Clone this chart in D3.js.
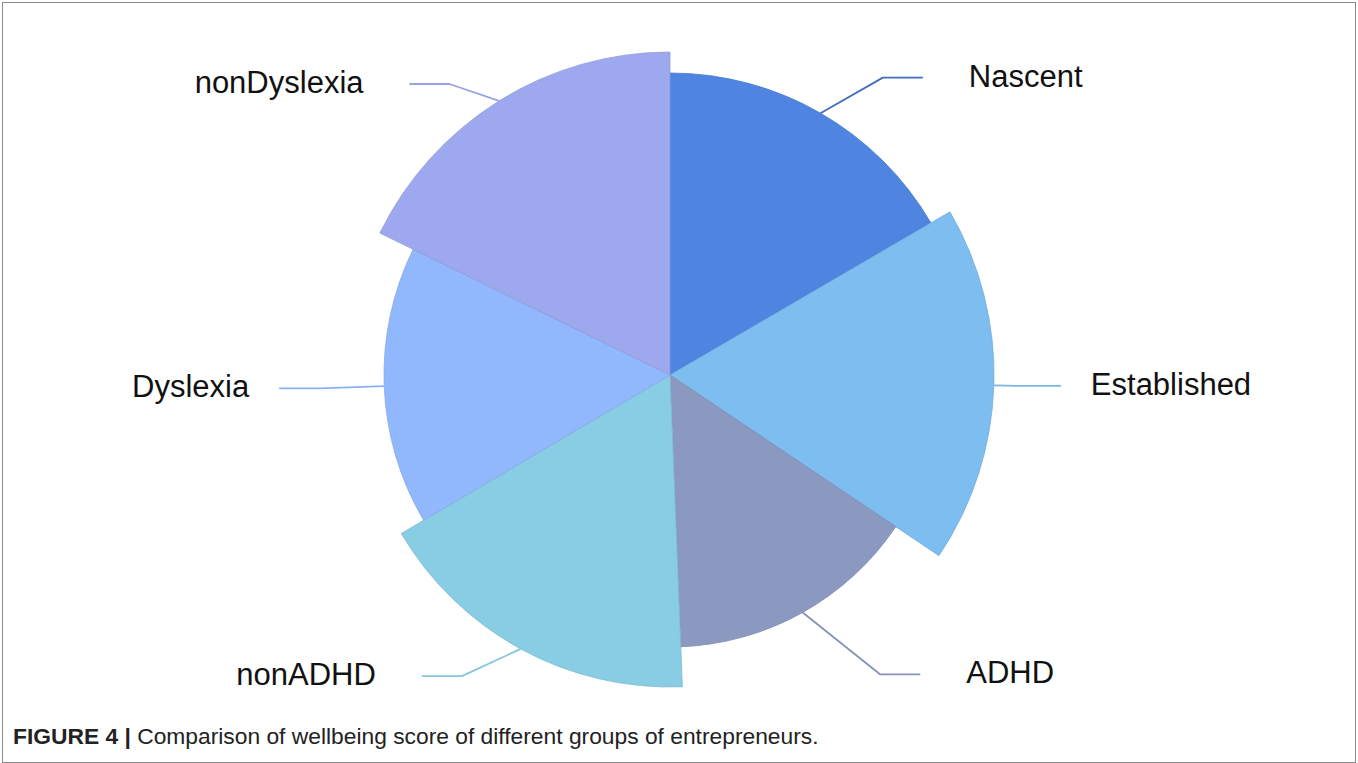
<!DOCTYPE html>
<html>
<head>
<meta charset="utf-8">
<script src="https://cdn.jsdelivr.net/npm/d3@7"></script>
<style>
  html, body { margin: 0; padding: 0; background: #fff; }
  svg { display: block; }
</style>
</head>
<body>
<svg id="chart" width="1358" height="763"></svg>
<script>
// Wellbeing score by entrepreneur group (rose chart: angle and radius both follow the value)
const categories = ["Nascent", "Established", "ADHD", "nonADHD", "Dyslexia", "nonDyslexia"];
const scores = [30.2, 32.4, 27.2, 31.2, 28.6, 32.3];
const sliceColors = ["#4f84e1", "#7dbdf0", "#8b99c1", "#88cde3", "#91b8fd", "#9ea8ef"];
const captionBold = "FIGURE 4 |";
const captionText = " Comparison of wellbeing score of different groups of entrepreneurs.";

const W = 1358, H = 763;
const cx = 670, cy = 375;
const maxRadius = 324;

const svg = d3.select("#chart");

// figure frame
svg.append("rect")
  .attr("x", 2.5).attr("y", 2.5)
  .attr("width", W - 5).attr("height", H - 3)
  .attr("fill", "none")
  .attr("stroke", "#8a8a8a")
  .attr("stroke-width", 1);

const data = categories.map((c, i) => ({ name: c, value: scores[i], color: sliceColors[i] }));

const rScale = d3.scaleLinear()
  .domain([0, d3.max(scores)])
  .range([0, maxRadius]);

const pie = d3.pie()
  .value(d => d.value)
  .sort(null)
  .startAngle(0)
  .endAngle(2 * Math.PI);

const arcs = pie(data);

const g = svg.append("g").attr("transform", `translate(${cx},${cy})`);

const arcGen = d3.arc()
  .innerRadius(0)
  .outerRadius(d => rScale(d.data.value));

g.selectAll("path.slice")
  .data(arcs)
  .join("path")
  .attr("class", "slice")
  .attr("d", arcGen)
  .attr("fill", d => d.data.color)
  .attr("stroke", d => d3.color(d.data.color).darker(0.25))
  .attr("stroke-width", 0.8);

// label lines: start on the slice edge, bend on an ellipse around the pie, then run horizontally
const labelYRadius = maxRadius + 19;   // vertical placement of label rows
const bendRA = maxRadius + 27;         // horizontal semi-axis of bend ellipse
const bendRB = maxRadius + 50;         // vertical semi-axis of bend ellipse
const len2 = 40;
const textGap = 46;

const labelGroup = g.append("g");

arcs.forEach(d => {
  const mid = (d.startAngle + d.endAngle) / 2;
  const r = rScale(d.data.value);
  const sx = r * Math.sin(mid), sy = -r * Math.cos(mid);
  const ly = -labelYRadius * Math.cos(mid);
  const dir = Math.sin(mid) >= 0 ? 1 : -1;
  const bx = dir * bendRA * Math.sqrt(Math.max(0, 1 - (ly * ly) / (bendRB * bendRB)));
  const ex = bx + dir * len2;
  // rows sitting level with the centre get a shorter gap before the text
  const gap = Math.abs(Math.cos(mid)) < 0.2 ? textGap - 16 : textGap;

  const lineColor = d.data.name === "Nascent"
    ? d3.color(d.data.color).darker(0.5)
    : d3.color(d.data.color).darker(0.1);

  labelGroup.append("path")
    .attr("d", d3.line().curve(d3.curveLinear)([[sx, sy], [bx, ly], [ex, ly]]))
    .attr("fill", "none")
    .attr("stroke", lineColor)
    .attr("stroke-width", 1.8)
    .attr("stroke-linejoin", "round");

  labelGroup.append("text")
    .attr("x", ex + dir * gap)
    .attr("y", ly + 9)
    .attr("text-anchor", dir > 0 ? "start" : "end")
    .attr("font-family", "'Liberation Sans', Arial, sans-serif")
    .attr("font-size", 31)
    .attr("fill", "#111")
    .text(d.data.name);
});

// caption
const cap = svg.append("text")
  .attr("x", 13)
  .attr("y", 744)
  .attr("font-family", "'Liberation Sans', Arial, sans-serif")
  .attr("font-size", 22.8)
  .attr("fill", "#222");
cap.append("tspan").attr("font-weight", "bold").text(captionBold);
cap.append("tspan").text(captionText);
</script>
</body>
</html>
